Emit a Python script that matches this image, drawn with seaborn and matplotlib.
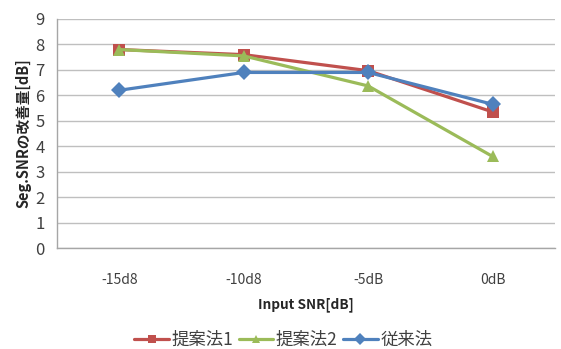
import matplotlib
matplotlib.use("Agg")
import matplotlib.pyplot as plt
import pandas as pd
import seaborn as sns
from matplotlib.ticker import FixedLocator

# data
snr_labels = ["-15d8", "-10d8", "-5dB", "0dB"]
method1 = [7.8, 7.6, 6.97, 5.35]
method2 = [7.8, 7.55, 6.37, 3.6]
baseline = [6.2, 6.9, 6.9, 5.65]
series_names = ["提案法1", "提案法2", "従来法"]

df = pd.DataFrame({
    "snr": snr_labels * 3,
    "value": method1 + method2 + baseline,
    "method": [n for n in series_names for _ in snr_labels],
})

sns.set_style("white")
plt.rcParams["font.family"] = ["Noto Sans CJK JP", "DejaVu Sans"]

palette = {"提案法1": "#C0504D", "提案法2": "#9BBB59", "従来法": "#4F81BD"}
markers = {"提案法1": "s", "提案法2": "^", "従来法": "D"}

fig = plt.figure(figsize=(5.61, 3.49), dpi=100)
ax = fig.add_axes([0.1016, 0.289, 0.8874, 0.6566])

sns.lineplot(data=df, x="snr", y="value", hue="method", style="method",
             palette=palette, markers=markers, dashes=False, linewidth=2.3,
             markersize=8, markeredgewidth=0, sort=False, ax=ax)

ax.set_xlim(-0.5, 3.5)
ax.set_ylim(0, 9)
ax.set_yticks(range(10))
ax.yaxis.grid(True, color="#BFBFBF", linewidth=1)
ax.set_axisbelow(True)
for s in ["top", "right"]:
    ax.spines[s].set_visible(False)
for s in ["left", "bottom"]:
    ax.spines[s].set_color("#A6A6A6")
    ax.spines[s].set_linewidth(1)

ax.xaxis.set_minor_locator(FixedLocator([-0.5, 0.5, 1.5, 2.5, 3.5]))
ax.tick_params(axis="x", which="major", length=0, labelsize=10, pad=18)
ax.tick_params(axis="x", which="minor", length=4, color="#A6A6A6", direction="out")
ax.tick_params(axis="y", length=4, color="#A6A6A6", direction="out", labelsize=12, pad=5)
for lbl in ax.get_xticklabels() + ax.get_yticklabels():
    lbl.set_color("#404040")

ax.set_xlabel("Input SNR[dB]", fontsize=9.8, fontweight="bold", labelpad=7, color="#262626")
ax.set_ylabel("Seg.SNRの改善量[dB]", fontsize=10.5, fontweight="bold", labelpad=3, color="#262626")

sns.move_legend(ax, "lower center", bbox_to_anchor=(0.505, -0.045), bbox_transform=fig.transFigure,
                ncol=3, frameon=False, title=None, fontsize=12.5, markerscale=0.75,
                handlelength=2.0, columnspacing=0.3, handletextpad=0.15)
for t in ax.get_legend().get_texts():
    t.set_color("#404040")

fig.savefig("out.png", dpi=100)
